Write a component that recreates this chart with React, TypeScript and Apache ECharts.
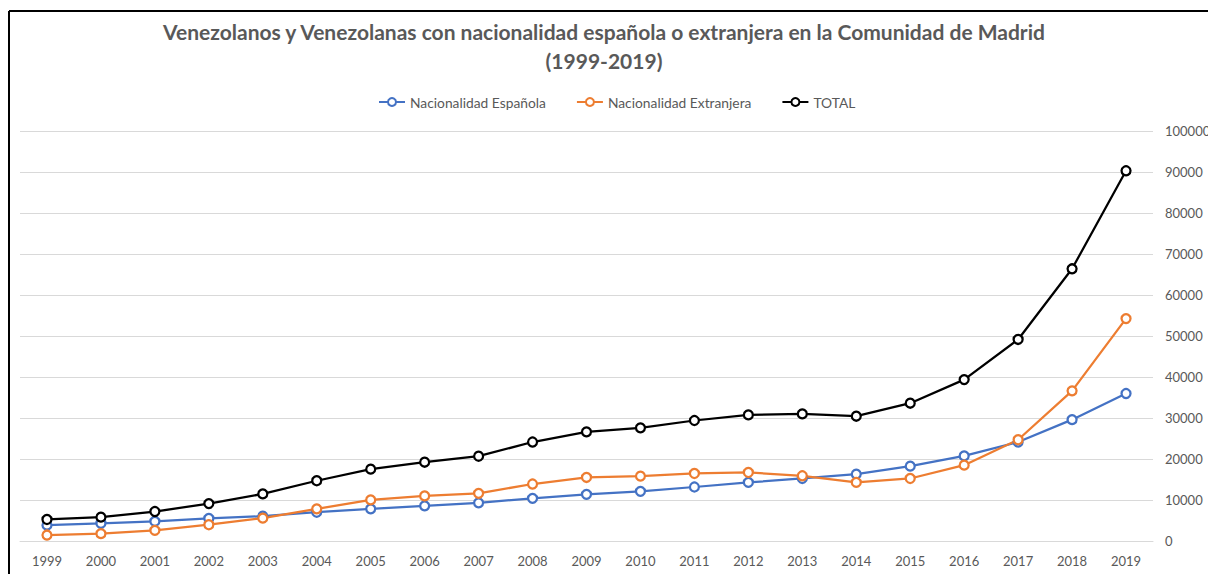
import React, { useEffect, useRef } from "react";
import * as echarts from "echarts";

const years = ["1999","2000","2001","2002","2003","2004","2005","2006","2007","2008","2009","2010","2011","2012","2013","2014","2015","2016","2017","2018","2019"];
const espanola = [3870,4290,4770,5500,6050,7020,7840,8570,9300,10400,11380,12110,13170,14290,15250,16320,18260,20750,24140,29600,35970];
const extranjera = [1450,1790,2590,3970,5570,7840,10020,11000,11620,13900,15500,15830,16470,16710,15910,14290,15250,18500,24700,36630,54250];
const total = [5250,5810,7190,9130,11480,14700,17530,19220,20680,24140,26630,27600,29390,30750,31000,30440,33610,39360,49160,66390,90300];

const titleText = "Venezolanos y Venezolanas con nacionalidad española o extranjera en la Comunidad de Madrid\n(1999-2019)";
const gray = "#595959";

export default function App() {
  const ref = useRef<HTMLDivElement>(null);
  useEffect(() => {
    if (!ref.current) return;
    const chart = echarts.init(ref.current, null, { renderer: "svg" });
    const mkSeries = (name: string, data: number[], color: string) => ({
      name,
      type: "line",
      data,
      symbol: "circle",
      symbolSize: 9,
      showSymbol: true,
      lineStyle: { color, width: 2.25 },
      itemStyle: { color: "#ffffff", borderColor: color, borderWidth: 2.25 },
      emphasis: { disabled: true },
    });
    chart.setOption({
      animation: false,
      backgroundColor: "#ffffff",
      title: {
        text: titleText,
        left: "center",
        top: 12,
        textStyle: {
          fontFamily: "Lato",
          fontWeight: "bold",
          fontSize: 21,
          lineHeight: 29,
          color: gray,
        },
      },
      legend: {
        top: 90,
        left: 373,
        itemWidth: 26,
        itemHeight: 10,
        itemGap: 30,
        textStyle: { fontFamily: "Lato", fontSize: 13.8, color: gray },
        data: ["Nacionalidad Española", "Nacionalidad Extranjera", "TOTAL"],
      },
      grid: {
        left: 20,
        right: 55,
        top: 131,
        bottom: 33,
        containLabel: false,
        outerBoundsMode: "none",
      },
      xAxis: {
        type: "category",
        data: years,
        boundaryGap: true,
        axisLine: { show: true, lineStyle: { color: "#d9d9d9", width: 1 } },
        axisTick: { show: false },
        axisLabel: { fontFamily: "Lato", fontSize: 13, color: gray, margin: 13 },
      },
      yAxis: {
        type: "value",
        position: "right",
        min: 0,
        max: 100000,
        interval: 10000,
        axisLine: { show: false },
        axisTick: { show: false },
        axisLabel: {
          fontFamily: "Lato",
          fontSize: 13,
          color: gray,
          margin: 12,
          align: "left",
          formatter: (v: number) => String(v),
        },
        splitLine: { lineStyle: { color: "#d9d9d9", width: 1 } },
      },
      graphic: [
        { type: "line", shape: { x1: 9, y1: 11, x2: 1208, y2: 11 }, style: { stroke: "#000", lineWidth: 2 } },
        { type: "line", shape: { x1: 9, y1: 11, x2: 9, y2: 574 }, style: { stroke: "#000", lineWidth: 2 } },
      ],
      series: [
        mkSeries("Nacionalidad Española", espanola, "#4472c4"),
        mkSeries("Nacionalidad Extranjera", extranjera, "#ed7d31"),
        mkSeries("TOTAL", total, "#000000"),
      ],
    });
    return () => chart.dispose();
  }, []);
  return (
    <div
      ref={ref}
      style={{ position: "fixed", left: 0, top: 0, width: 1208, height: 574, background: "#fff" }}
    />
  );
}
